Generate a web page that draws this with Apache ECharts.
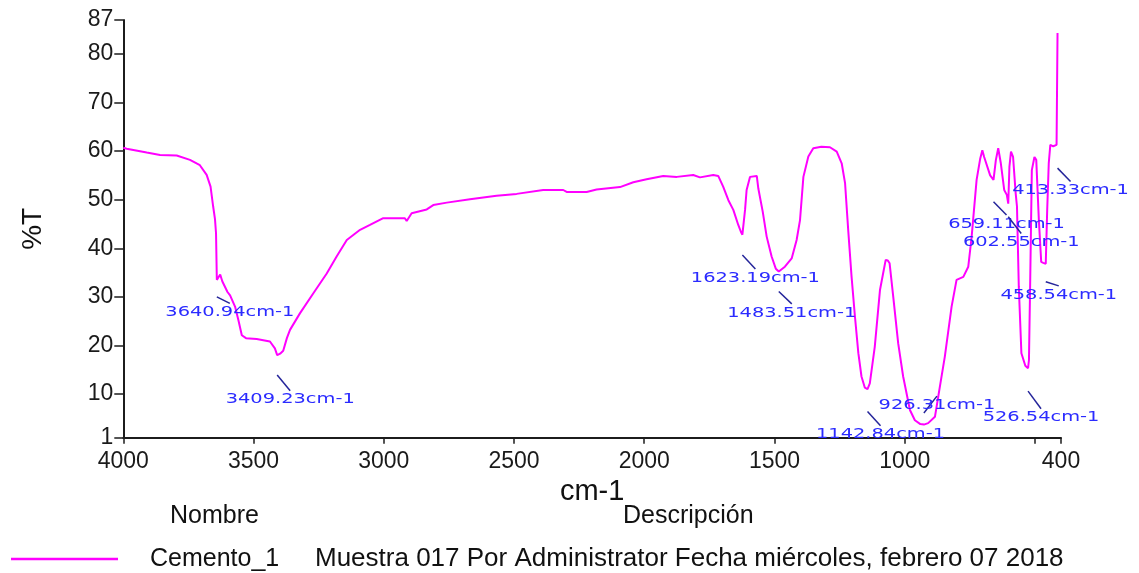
<!DOCTYPE html>
<html>
<head>
<meta charset="utf-8">
<script src="https://cdn.jsdelivr.net/npm/echarts@6/dist/echarts.min.js"></script>
<style>
  html, body { margin: 0; padding: 0; background: #ffffff; }
  #chart { width: 1139px; height: 573px; }
</style>
</head>
<body>
<div id="chart"></div>
<script>
// FT-IR spectrum of sample Cemento_1: wavenumber (cm-1) and transmittance (%T)
const wavenumbers = [
  4000, 3987, 3910, 3859, 3795, 3744, 3706, 3680, 3665, 3655, 3648, 3644,
  3640.94, 3634, 3628, 3620, 3600, 3590, 3571, 3558, 3545, 3529, 3488, 3437,
  3418, 3409.23, 3398, 3386, 3372, 3360, 3322, 3271, 3219, 3181, 3142, 3091,
  3053, 3002, 2938, 2919, 2912, 2893, 2835, 2810, 2758, 2669, 2567, 2490,
  2388, 2311, 2298, 2221, 2183, 2093, 2042, 1991, 1927, 1875, 1812, 1786,
  1735, 1716, 1697, 1677, 1658, 1639, 1629, 1623.19, 1613, 1607, 1594, 1568,
  1562, 1545, 1530, 1511, 1495, 1483.51, 1460, 1434, 1415, 1402, 1389, 1370,
  1351, 1320, 1287, 1261, 1242, 1229, 1217, 1204, 1191, 1178, 1166, 1153,
  1142.84, 1134, 1115, 1095, 1083, 1073, 1065, 1058, 1044, 1025, 1006, 980,
  961, 940, 926.31, 910, 884, 865, 846, 820, 801, 775, 756, 743,
  724, 710, 702, 695, 672, 659.11, 650, 641, 631, 618, 608, 602.55,
  598, 592, 584, 574, 569, 562, 552, 537, 526.54, 523, 518, 512,
  502, 495, 485, 476, 468, 458.54, 453, 447, 441, 430, 417, 413.33
];
const transmittance = [
  60.7, 60.5, 59.7, 59.2, 59.1, 58.2, 57.1, 55.1, 52.7, 48.6, 46.0, 43.1,
  33.5, 33.6, 34.6, 33.2, 31.0, 30.3, 28.0, 25.2, 22.1, 21.5, 21.3, 20.8,
  19.4, 18.0, 18.3, 18.9, 21.5, 23.2, 26.6, 30.7, 34.8, 38.3, 41.7, 43.8,
  44.8, 46.2, 46.2, 46.2, 45.6, 47.2, 48.0, 48.9, 49.4, 50.1, 50.8, 51.2,
  52.0, 52.0, 51.6, 51.6, 52.1, 52.6, 53.6, 54.2, 54.9, 54.7, 55.1, 54.6,
  55.1, 54.9, 52.7, 49.9, 47.9, 44.8, 43.4, 42.8, 47.9, 52.0, 54.7, 54.9,
  52.3, 47.5, 42.4, 38.3, 35.8, 35.2, 36.2, 37.9, 41.7, 45.8, 54.7, 58.9,
  60.6, 60.9, 60.8, 59.9, 57.5, 53.4, 43.8, 34.1, 25.9, 18.4, 13.6, 11.3,
  11.0, 12.2, 19.7, 31.4, 34.8, 37.6, 37.5, 36.9, 30.0, 20.4, 13.6, 6.7,
  4.6, 3.8, 3.7, 4.0, 5.3, 11.5, 17.7, 28.0, 33.5, 34.1, 36.2, 42.4,
  54.1, 58.5, 60.2, 58.8, 55.0, 54.1, 58.2, 60.6, 57.5, 52.0, 51.0, 49.2,
  56.8, 59.9, 58.8, 51.3, 48.6, 32.1, 18.4, 15.8, 15.3, 17.0, 34.1, 56.1,
  58.8, 58.2, 45.8, 37.2, 37.0, 36.8, 47.9, 57.5, 61.3, 61.0, 61.3, 84.3
];

// Labelled band positions (cm-1)
const peakWavenumbers = [3640.94, 3409.23, 1623.19, 1483.51, 1142.84, 926.31, 659.11, 602.55, 526.54, 458.54, 413.33];

// Callout placement in %T: where each leader line starts and where its label sits
const calloutLineT  = [30.0, 13.9, 38.6, 31.1, 6.4, 6.1, 49.6, 46.5, 10.6, 33.1, 56.5];
const calloutLabelT = [26.8, 8.8, 33.9, 26.7, 1.6, 7.7, 45.0, 41.2, 5.1, 30.4, 51.9];

// Axis ticks
const xTickValues  = [4000, 3500, 3000, 2500, 2000, 1500, 1000, 500, 400];
const xLabelValues = [4000, 3500, 3000, 2500, 2000, 1500, 1000, 400];
const yTickValues  = [1, 10, 20, 30, 40, 50, 60, 70, 80, 87];

const sampleName = 'Cemento_1';
const sampleDescription = 'Muestra 017 Por Administrator Fecha miércoles, febrero 07 2018';

const spectrum = wavenumbers.map((w, i) => [w, transmittance[i]]);
const callouts = peakWavenumbers.map((w, i) => [w, calloutLineT[i], calloutLabelT[i]]);

const FONT = '"Liberation Sans", Arial, sans-serif';
const AXIS_COLOR = '#1c1c1c';

const chart = echarts.init(document.getElementById('chart'), null, { renderer: 'canvas' });

chart.setOption({
  animation: false,
  backgroundColor: '#ffffff',
  grid: { left: 123.3, right: 78, top: 20, bottom: 135.3 },
  xAxis: {
    type: 'value',
    inverse: true,
    min: 400,
    max: 4000,
    name: 'cm-1',
    nameLocation: 'middle',
    nameGap: 36,
    nameTextStyle: { fontFamily: FONT, fontSize: 29, color: '#111111' },
    axisLine: { onZero: false, lineStyle: { color: AXIS_COLOR, width: 2 } },
    axisTick: { show: true, length: 6, customValues: xTickValues, lineStyle: { color: AXIS_COLOR, width: 1.5 } },
    axisLabel: {
      customValues: xLabelValues,
      formatter: v => String(v),
      margin: 12,
      fontFamily: FONT,
      fontSize: 23,
      color: '#1a1a1a'
    },
    splitLine: { show: false }
  },
  yAxis: {
    type: 'value',
    min: 1,
    max: 87,
    name: '%T',
    nameLocation: 'middle',
    nameGap: 76,
    nameTextStyle: { fontFamily: FONT, fontSize: 28, color: '#111111' },
    axisLine: { show: true, onZero: false, lineStyle: { color: AXIS_COLOR, width: 2 } },
    axisTick: { show: true, length: 9, customValues: yTickValues, lineStyle: { color: AXIS_COLOR, width: 1.5 } },
    axisLabel: {
      customValues: yTickValues,
      formatter: v => String(v),
      margin: 10,
      fontFamily: FONT,
      fontSize: 23,
      color: '#1a1a1a'
    },
    splitLine: { show: false }
  },
  legend: {
    left: 11,
    top: 546,
    padding: 0,
    icon: 'rect',
    itemWidth: 107,
    itemHeight: 2.5,
    data: [sampleName],
    formatter: name => '{n|' + name + '}{d|' + sampleDescription + '}',
    textStyle: {
      fontFamily: FONT,
      fontSize: 25,
      color: '#111111',
      rich: {
        n: { fontFamily: FONT, fontSize: 25, color: '#111111', width: 165, padding: [0, 0, 0, 27] },
        d: { fontFamily: FONT, fontSize: 26, color: '#111111' }
      }
    }
  },
  graphic: [
    { type: 'text', left: 170, top: 504, style: { text: 'Nombre', font: '25px ' + FONT, fill: '#111111' } },
    { type: 'text', left: 623, top: 504, style: { text: 'Descripción', font: '25px ' + FONT, fill: '#111111' } }
  ],
  series: [
    {
      name: sampleName,
      type: 'line',
      data: spectrum,
      showSymbol: false,
      symbol: 'none',
      lineStyle: { color: '#ff00ff', width: 2 },
      itemStyle: { color: '#ff00ff' },
      z: 2
    },
    {
      name: 'callouts',
      type: 'custom',
      data: callouts,
      clip: false,
      z: 3,
      renderItem: function (params, api) {
        const wn = api.value(0);
        const start = api.coord([wn, api.value(1)]);
        const labelPos = api.coord([wn, api.value(2)]);
        const endX = start[0] + 13;
        const endY = labelPos[1] - 9;
        return {
          type: 'group',
          children: [
            {
              type: 'line',
              shape: { x1: start[0], y1: start[1], x2: endX, y2: endY },
              style: { stroke: '#25259a', lineWidth: 1.5 }
            },
            {
              type: 'text',
              x: start[0] + 13,
              y: labelPos[1],
              scaleX: 1.385,
              style: {
                text: wn.toFixed(2) + 'cm-1',
                font: '14px "DejaVu Sans", sans-serif',
                fill: '#2b2bff',
                align: 'center',
                verticalAlign: 'middle'
              }
            }
          ]
        };
      }
    }
  ]
});
</script>
</body>
</html>
